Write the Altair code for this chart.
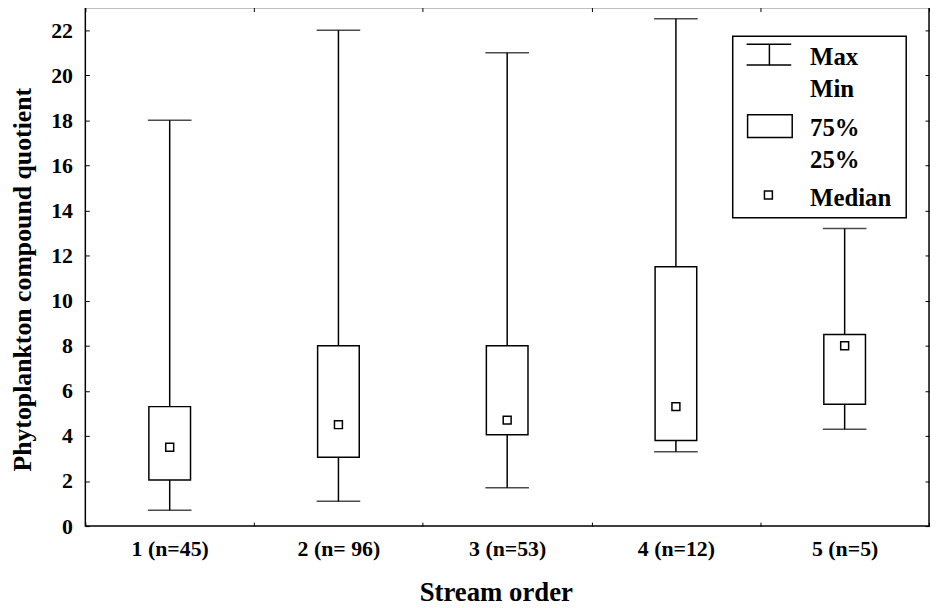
import altair as alt
import pandas as pd

# ---------------- data ----------------
categories = ["1 (n=45)", "2 (n= 96)", "3 (n=53)", "4 (n=12)", "5 (n=5)"]
mins = [0.7, 1.1, 1.7, 3.3, 4.3]
q1s = [2.05, 3.05, 4.05, 3.8, 5.4]
medians = [3.5, 4.5, 4.7, 5.3, 8.0]
q3s = [5.3, 8.0, 8.0, 11.5, 8.5]
maxs = [18.0, 22.0, 21.0, 22.5, 13.2]
y_ticks = list(range(0, 23, 2))
legend_labels = ["Max", "Min", "75%", "25%", "Median"]

df = pd.DataFrame({"cat": categories, "mn": mins, "q1": q1s,
                   "med": medians, "q3": q3s, "mx": maxs})

# ---------------- style ----------------
FONT = "Liberation Serif, Times New Roman, Times, serif"
W, H = 851, 523
LW = 1.5

xscale = alt.Scale(domain=categories, paddingInner=0, paddingOuter=0)
yscale = alt.Scale(domain=[0, 23], nice=False, zero=False)

bottom_axis = alt.Axis(orient="bottom", offset=-4, domain=False, grid=False,
                       tickSize=4, tickBand="extent", tickColor="black", tickWidth=1,
                       labelFont=FONT, labelFontSize=22, labelFontWeight="bold",
                       labelColor="black", labelPadding=13, labelAngle=0,
                       title="Stream order", titleFont=FONT, titleFontSize=27,
                       titleFontWeight="bold", titleColor="black",
                       titleX=414, titleY=79, titleAlign="center",
                       titleBaseline="alphabetic")
left_axis = alt.Axis(orient="left", offset=-4, domain=False, grid=False, tickSize=4,
                     values=y_ticks, tickColor="black", tickWidth=1,
                     labelFont=FONT, labelFontSize=22, labelFontWeight="bold",
                     labelColor="black", labelPadding=13,
                     title="Phytoplankton compound quotient", titleFont=FONT,
                     titleFontSize=26, titleFontWeight="bold", titleColor="black",
                     titleX=-59, titleY=274, titleAlign="center",
                     titleAngle=-90, titleBaseline="alphabetic")
top_axis = alt.Axis(orient="top", offset=-4, domain=False, grid=False, tickSize=4,
                    tickBand="extent", labels=False, title=None,
                    tickColor="black", tickWidth=1)
right_axis = alt.Axis(orient="right", offset=-4, domain=False, grid=False, tickSize=4,
                      values=y_ticks, labels=False, title=None,
                      tickColor="black", tickWidth=1)

base = alt.Chart(df)

boxes = base.mark_bar(size=42, fill="white", stroke="black", strokeWidth=LW).encode(
    x=alt.X("cat:N", sort=categories, scale=xscale, axis=bottom_axis),
    y=alt.Y("q1:Q", scale=yscale, axis=left_axis),
    y2="q3:Q",
)
whisk_lo = base.mark_rule(color="black", strokeWidth=LW).encode(
    x=alt.X("cat:N", sort=categories, scale=xscale, axis=top_axis),
    y=alt.Y("mn:Q", scale=yscale, axis=right_axis),
    y2="q1:Q",
)
whisk_hi = base.mark_rule(color="black", strokeWidth=LW).encode(
    x=alt.X("cat:N", sort=categories, scale=xscale, axis=None),
    y=alt.Y("q3:Q", scale=yscale, axis=None),
    y2="mx:Q",
)
caps = base.transform_fold(["mn", "mx"], as_=["k", "v"]).mark_tick(
    color="black", size=44, thickness=LW, orient="horizontal").encode(
    x=alt.X("cat:N", sort=categories, scale=xscale, axis=None),
    y=alt.Y("v:Q", scale=yscale, axis=None),
)
med = base.mark_square(size=64, fill="white", stroke="black", strokeWidth=LW,
                       opacity=1).encode(
    x=alt.X("cat:N", sort=categories, scale=xscale, axis=None),
    y=alt.Y("med:Q", scale=yscale, axis=None),
)

# ---------------- legend (pixel layout) ----------------
one = alt.Chart(pd.DataFrame({"a": [0]}))
leg_box = one.mark_rect(fill="white", stroke="black", strokeWidth=LW).encode(
    x=alt.value(653), x2=alt.value(828), y=alt.value(29), y2=alt.value(212))
leg_layers = [leg_box]
for yy in (37, 58):
    leg_layers.append(one.mark_rule(color="black", strokeWidth=LW).encode(
        x=alt.value(667), x2=alt.value(712), y=alt.value(yy)))
leg_layers.append(one.mark_rule(color="black", strokeWidth=LW).encode(
    x=alt.value(690), y=alt.value(37), y2=alt.value(58)))
leg_layers.append(one.mark_rect(fill="white", stroke="black", strokeWidth=LW).encode(
    x=alt.value(668), x2=alt.value(713), y=alt.value(108), y2=alt.value(131)))
leg_layers.append(one.mark_square(size=64, fill="white", stroke="black",
                                  strokeWidth=LW, opacity=1).encode(
    x=alt.value(689), y=alt.value(189)))
for lab, yy in zip(legend_labels, [58, 90, 130, 162, 200]):
    leg_layers.append(one.mark_text(text=lab, font=FONT, fontSize=25,
                                    fontWeight="bold", color="black",
                                    align="left", baseline="alphabetic").encode(
        x=alt.value(731), y=alt.value(yy)))

chart = alt.layer(boxes, whisk_lo, whisk_hi, caps, med, *leg_layers).resolve_axis(
    x="independent", y="independent"
).properties(
    width=W, height=H,
    autosize=alt.AutoSizeParams(type="none"),
    padding={"left": 78, "top": -3, "right": 2, "bottom": 78},
    background="white",
).configure_view(stroke="black", strokeWidth=LW)

chart.save("out.html", embed_options={"renderer": "svg", "actions": False})
